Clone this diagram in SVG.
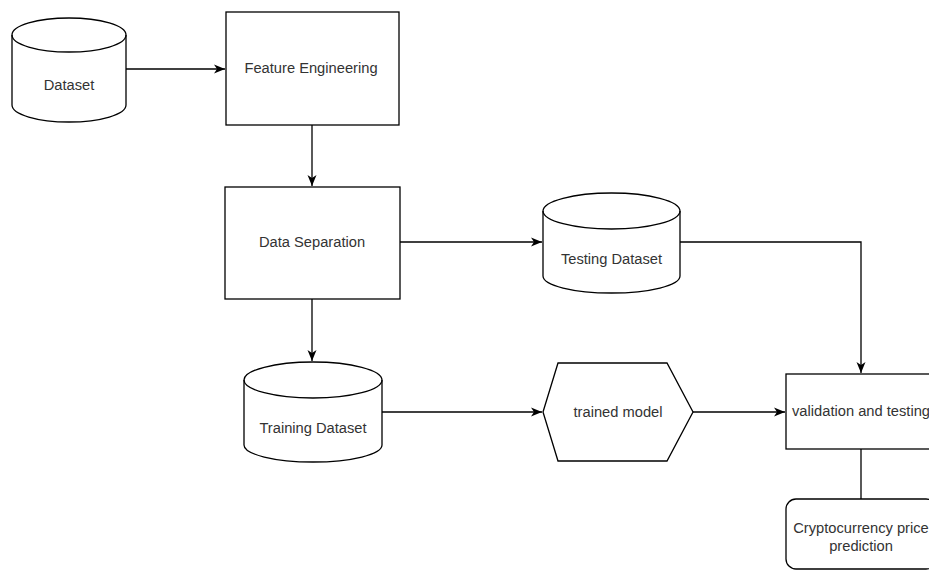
<svg xmlns="http://www.w3.org/2000/svg" width="929" height="571" viewBox="0 0 929 571">
<defs>
<style>
.s{fill:#fff;stroke:#000;stroke-width:1.3}
.c{fill:none;stroke:#000;stroke-width:1.3}
.t{font-family:"Liberation Sans",Arial,sans-serif;font-size:14.7px;fill:#333;text-anchor:middle}
</style>
<marker id="a" markerUnits="userSpaceOnUse" markerWidth="12" markerHeight="10" refX="11" refY="5" orient="auto">
<path d="M0,0.5 L11,5 L0,9.5 L3,5 z" fill="#000"/>
</marker>
</defs>
<rect width="929" height="571" fill="#fff"/>
<g id="connectors">
<path class="c" d="M126,69 H225" marker-end="url(#a)"/>
<path class="c" d="M312,125 V186" marker-end="url(#a)"/>
<path class="c" d="M400,242 H542" marker-end="url(#a)"/>
<path class="c" d="M680,242 H861 V373" marker-end="url(#a)"/>
<path class="c" d="M312,299 V361" marker-end="url(#a)"/>
<path class="c" d="M382,412 H542" marker-end="url(#a)"/>
<path class="c" d="M693,412 H785" marker-end="url(#a)"/>
<path class="c" d="M861,449 V499"/>
</g>
<g id="dataset">
<path class="s" d="M12,35 A57,17 0 0 1 126,35 V105 A57,17 0 0 1 12,105 Z"/>
<path class="c" d="M12,35 A57,17 0 0 0 126,35"/>
<text class="t" x="69" y="90">Dataset</text>
</g>
<g id="feature-engineering">
<rect class="s" x="226" y="12" width="173" height="113"/>
<text class="t" x="311" y="73">Feature Engineering</text>
</g>
<g id="data-separation">
<rect class="s" x="225" y="187" width="175" height="112"/>
<text class="t" x="312" y="247">Data Separation</text>
</g>
<g id="testing-dataset">
<path class="s" d="M543,211 A68.5,18 0 0 1 680,211 V276 A68.5,17 0 0 1 543,276 Z"/>
<path class="c" d="M543,211 A68.5,18 0 0 0 680,211"/>
<text class="t" x="611.5" y="264">Testing Dataset</text>
</g>
<g id="training-dataset">
<path class="s" d="M244,380 A69,18 0 0 1 382,380 V445 A69,17 0 0 1 244,445 Z"/>
<path class="c" d="M244,380 A69,18 0 0 0 382,380"/>
<text class="t" x="313" y="433">Training Dataset</text>
</g>
<g id="trained-model">
<polygon class="s" points="543,412 558,363 667,363 693,412 667,461 558,461"/>
<text class="t" x="618" y="417">trained model</text>
</g>
<g id="validation">
<rect class="s" x="786" y="374" width="150" height="75"/>
<text class="t" x="861" y="416">validation and testing</text>
</g>
<g id="prediction">
<rect class="s" x="786" y="499" width="150" height="70" rx="10" ry="10"/>
<text class="t" x="861" y="533">Cryptocurrency price</text>
<text class="t" x="861" y="551">prediction</text>
</g>
</svg>
